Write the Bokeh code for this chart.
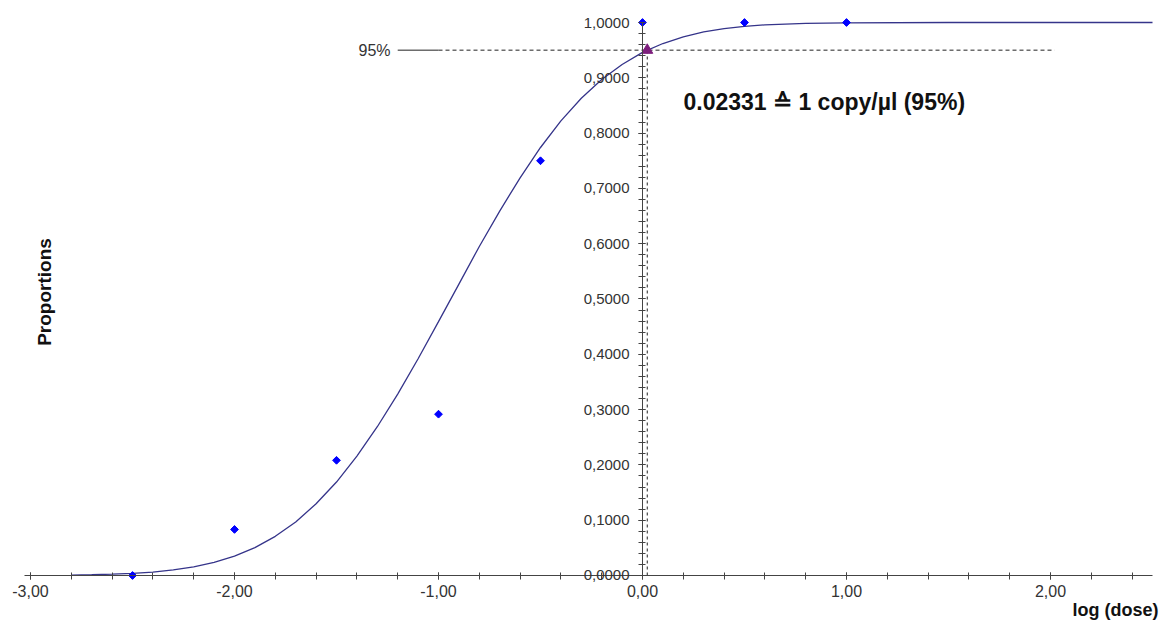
import numpy as np
from bokeh.plotting import figure
from bokeh.models import FixedTicker, Range1d, Label, ColumnDataSource
from bokeh.embed import file_html
from bokeh.resources import INLINE

# ---- data ----
dose_log = [-2.5, -2.0, -1.5, -1.0, -0.5, 0.0, 0.5, 1.0]
proportions = [0.0, 0.0833, 0.2083, 0.2917, 0.75, 1.0, 1.0, 1.0]

fit_x = [-2.8, -2.7, -2.6, -2.5, -2.4, -2.3, -2.2, -2.1, -2.0, -1.9, -1.8, -1.7,
         -1.6, -1.5, -1.4, -1.3, -1.2, -1.1, -1.0, -0.9, -0.8, -0.7, -0.6, -0.5,
         -0.4, -0.3, -0.2, -0.1, 0.0, 0.1, 0.2, 0.3, 0.4, 0.5, 0.6, 0.8, 1.0,
         1.5, 2.5]
fit_y = [0.0007, 0.0013, 0.0023, 0.0038, 0.0062, 0.0102, 0.0157, 0.0238, 0.035,
         0.0505, 0.0708, 0.0968, 0.1297, 0.169, 0.216, 0.269, 0.328, 0.392, 0.459,
         0.527, 0.595, 0.659, 0.719, 0.774, 0.822, 0.863, 0.897, 0.924, 0.946,
         0.962, 0.974, 0.983, 0.989, 0.993, 0.9957, 0.9985, 0.9995, 1.0, 1.0]

x95 = 0.02331
p95 = 0.95

x_ticks = [-3, -2, -1, 0, 1, 2]
x_tick_labels = ["-3,00", "-2,00", "-1,00", "0,00", "1,00", "2,00"]
y_ticks = [0.0, 0.1, 0.2, 0.3, 0.4, 0.5, 0.6, 0.7, 0.8, 0.9, 1.0]
y_tick_labels = ["0,0000", "0,1000", "0,2000", "0,3000", "0,4000", "0,5000",
                 "0,6000", "0,7000", "0,8000", "0,9000", "1,0000"]

annotation = "0.02331 \u2259 1 copy/\u00b5l (95%)"

# ---- figure ----
p = figure(width=1165, height=620,
           x_range=Range1d(-3.1471, 2.5637), y_range=Range1d(-0.0814, 1.0398),
           output_backend="svg", toolbar_location=None,
           min_border_left=0, min_border_right=0, min_border_top=0, min_border_bottom=0)
p.outline_line_color = None
p.xgrid.visible = False
p.ygrid.visible = False
p.background_fill_color = "white"

FONT = "Liberation Sans"

xa = p.xaxis[0]
xa.fixed_location = 0
xa.bounds = (-3.03, 2.5)
xa.ticker = FixedTicker(ticks=x_ticks, minor_ticks=list(np.round(np.arange(-3.0, 2.41, 0.2), 2)))
xa.major_label_overrides = {t: l for t, l in zip(x_ticks, x_tick_labels)}
xa.axis_line_color = "#444444"
xa.major_tick_line_color = "#444444"
xa.minor_tick_line_color = "#444444"
xa.major_tick_in = 3
xa.major_tick_out = 4
xa.minor_tick_in = 3
xa.minor_tick_out = 4
xa.major_label_standoff = 6
xa.major_label_text_font = FONT
xa.major_label_text_font_size = "16px"
xa.major_label_text_color = "#333333"

ya = p.yaxis[0]
ya.fixed_location = 0
ya.bounds = (0, 1.0)
ya.ticker = FixedTicker(ticks=y_ticks, minor_ticks=list(np.round(np.arange(0.0, 1.001, 0.02), 2)))
ya.major_label_overrides = {t: l for t, l in zip(y_ticks, y_tick_labels)}
ya.axis_line_color = "#444444"
ya.major_tick_line_color = "#444444"
ya.minor_tick_line_color = "#444444"
ya.major_tick_in = 3
ya.major_tick_out = 4
ya.minor_tick_in = 3
ya.minor_tick_out = 4
ya.major_label_standoff = 9
ya.major_label_text_font = FONT
ya.major_label_text_font_size = "15px"
ya.major_label_text_color = "#333333"

# 95% reference lines
p.line([-1.2, -1.0], [p95, p95], line_color="#222222", line_width=1)
p.line([-1.0, 2.02], [p95, p95], line_color="#222222", line_width=1, line_dash="4 3")
p.line([x95, x95], [0, p95], line_color="#222222", line_width=1, line_dash="3 3")

# fitted curve
p.line(fit_x, fit_y, line_color="#35348a", line_width=1.3)

# observed points
src = ColumnDataSource(dict(x=dose_log, y=proportions))
p.scatter("x", "y", source=src, marker="square", angle=np.pi / 4, size=5.5,
          fill_color="#0000ff", line_color="#0000ff")

# 95% point
p.scatter([x95], [p95], marker="triangle", size=11, fill_color="#7d1f7d", line_color="#7d1f7d")

# texts
p.add_layout(Label(x=-1.235, y=p95, text="95%", text_align="right", text_baseline="middle",
                   text_font=FONT, text_font_size="16px", text_color="#333333"))
p.add_layout(Label(x=0.201, y=0.857, text=annotation, text_align="left", text_baseline="middle",
                   text_font=FONT, text_font_size="23px", text_font_style="bold", text_color="#111111"))
p.add_layout(Label(x=-2.931, y=0.5127, text="Proportions", angle=np.pi / 2, text_align="center",
                   text_baseline="middle", text_font=FONT, text_font_size="19px",
                   text_font_style="bold", text_color="#111111"))
p.add_layout(Label(x=2.108, y=-0.0625, text="log (dose)", text_align="left", text_baseline="alphabetic",
                   text_font=FONT, text_font_size="18px", text_font_style="bold", text_color="#111111"))

open("out.html", "w").write(file_html(p, INLINE))
